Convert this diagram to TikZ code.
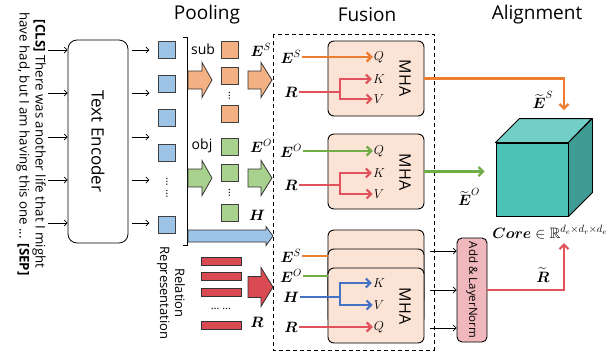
\RequirePackage{fix-cm}
\documentclass[tikz,border=0pt]{standalone}
\usepackage{fontspec}
\setmainfont{Open Sans}
\usepackage{amsmath,amssymb}
\usetikzlibrary{arrows.meta}

\definecolor{bluesq}{HTML}{9DC3E6}
\definecolor{orangesq}{HTML}{F4B183}
\definecolor{greensq}{HTML}{A9D18E}
\definecolor{barred}{HTML}{D94A52}
\definecolor{orangec}{HTML}{ED7D31}
\definecolor{greenc}{HTML}{70AD47}
\definecolor{bluec}{HTML}{4472C4}
\definecolor{redc}{HTML}{E0525C}
\definecolor{mhafill}{HTML}{FBE3D6}
\definecolor{addfill}{HTML}{F0B8BC}
\definecolor{cubefront}{HTML}{4CC1B6}
\definecolor{cubetop}{HTML}{72CFC7}
\definecolor{cubeside}{HTML}{3F9C94}

\tikzset{
  sq/.style={draw=black!75, line width=0.8pt, minimum size=17pt, inner sep=0pt},
  bar/.style={draw=black!80, line width=0.8pt, fill=barred, minimum width=40pt, minimum height=8pt, inner sep=0pt},
  mha/.style={draw, line width=0.9pt, rounded corners=6pt, fill=mhafill, minimum width=96pt, minimum height=75pt, inner sep=0pt},
  lab/.style={font=\fontsize{15}{17}\selectfont, inner sep=1pt},
  qkv/.style={font=\fontsize{13}{15}\selectfont, inner sep=1pt},
  cline/.style={line width=2.2pt},
  carr/.style={line width=2.2pt, -{Straight Barb[length=4.5pt,width=9pt]}},
  blk/.style={line width=0.7pt, -{Straight Barb[length=3pt,width=6pt]}},
  title/.style={font=\fontsize{19}{22}\selectfont},
}

% 块状箭头: 颜色, 起点x, 中心y, 箭头起点x, 尖端x, 箭身半高, 箭头半高
\newcommand{\blockarr}[7]{%
  \draw[line width=0.8pt, draw=black!80, fill=#1]
    (#2,{#3-#6}) -- (#4,{#3-#6}) -- (#4,{#3-#7}) -- (#5,#3)
    -- (#4,{#3+#7}) -- (#4,{#3+#6}) -- (#2,{#3+#6}) -- cycle;}

\begin{document}
\begin{tikzpicture}[x=1pt, y=-1pt]
    \useasboundingbox (0,0) rectangle (614,354);

    % 标题
    \node[title] (tpool) at (207,15) {Pooling};
    \node[title] (tfus) at (367,15) {Fusion};
    \node[title] (talign) at (537,15) {Alignment};

    % 输入句子与编码器
    \node[rotate=-90, align=center, font=\fontsize{13.3}{16}\selectfont, inner sep=0pt] (sent) at (31,144)
        {\textbf{[CLS]} There was another life that I might\\have had, but I am having this one ... \textbf{[SEP]}};
    \node[draw, line width=0.8pt, rounded corners=9pt, minimum width=60pt, minimum height=203pt] (enc) at (98,141.5) {};
    \node[rotate=-90, font=\fontsize{17}{20}\selectfont] (enctxt) at (enc) {Text Encoder};
    \foreach \y in {50,93,137,180,223} {
        \draw[blk] (sent.north |- 0,\y) ++(2,0) -- (enc.west |- 0,\y);
        \draw[blk] (enc.east |- 0,\y) ++(4,0) -- ++(17,0);
    }

    % 关系表示
    \foreach \y [count=\i] in {50,84,118,153,225}
        \node[sq, fill=bluesq] (b\i) at (167,\y) {};
    \node[rotate=-90, font=\fontsize{11}{12}\selectfont] (bdots) at (167,188) {\dots\ \dots};
    \draw[line width=0.7pt] (183,37) -- (187,37) -- (187,245) -- (183,245);
    \node[rotate=-90, align=center, font=\fontsize{13}{15}\selectfont] (relrep) at (171,293) {Relation\\Representation};

    % 池化
    \node[font=\fontsize{14}{16}\selectfont] (sub) at (203,49) {sub};
    \node[font=\fontsize{14}{16}\selectfont] (obj) at (202,146) {obj};
    \blockarr{orangesq}{188}{80}{202}{212}{9}{17.5}
    \blockarr{greensq}{188}{178}{202}{212}{9}{17.5}
    \foreach \y [count=\i] in {50,76,114}
        \node[sq, fill=orangesq] (o\i) at (229.5,\y) {};
    \foreach \y [count=\i] in {147,173,213}
        \node[sq, fill=greensq] (g\i) at (229.5,\y) {};
    \node[rotate=-90, font=\fontsize{11}{12}\selectfont] (odots) at (229.5,96) {\dots};
    \node[rotate=-90, font=\fontsize{11}{12}\selectfont] (gdots) at (229.5,193) {\dots};
    \blockarr{orangesq}{248}{80}{261}{272}{9}{17.5}
    \blockarr{greensq}{248}{178}{261}{272}{9}{17.5}
    \blockarr{bluesq}{188}{236}{266}{273}{6}{9.5}
    \node[lab] (pes) at (261,50) {$\boldsymbol{E}^{S}$};
    \node[lab] (peo) at (261,146) {$\boldsymbol{E}^{O}$};
    \node[lab] (ph) at (257,215) {$\boldsymbol{H}$};

    % 关系嵌入
    \foreach \y [count=\i] in {261,276,292,325}
        \node[bar] (rb\i) at (221,\y) {};
    \node[font=\fontsize{11}{12}\selectfont] (rdots) at (221,309) {\dots\ \dots};
    \node[lab] (pr) at (257,322) {$\boldsymbol{R}$};
    \blockarr{barred}{248}{287}{261}{273}{10.5}{19.5}

    % 融合模块
    \draw[dashed, line width=0.9pt, dash pattern=on 4pt off 3pt] (273,34) rectangle (434,350);

    % 第一行 MHA
    \node[mha] (mha1) at (376,78.5) {};
    \node[rotate=-90, font=\fontsize{16}{18}\selectfont] at (405,78) {MHA};
    \node[lab] (es1) at (291,57) {$\boldsymbol{E}^{S}$};
    \node[lab] (r1) at (291,92) {$\boldsymbol{R}$};
    \node[qkv] (q1) at (379,57) {$Q$};
    \node[qkv] (k1) at (379,79) {$K$};
    \node[qkv] (v1) at (379,99) {$V$};
    \draw[carr, orangec] (es1.east) -- (q1.west);
    \draw[cline, redc] (r1.east) -- (340,92) coordinate (j1);
    \draw[carr, redc] (j1) |- (k1.west);
    \draw[carr, redc] (j1) |- (v1.west);

    % 第二行 MHA
    \node[mha] (mha2) at (376,171.5) {};
    \node[rotate=-90, font=\fontsize{16}{18}\selectfont] at (405,172) {MHA};
    \node[lab] (eo2) at (291,151) {$\boldsymbol{E}^{O}$};
    \node[lab] (r2) at (291,185) {$\boldsymbol{R}$};
    \node[qkv] (q2) at (379,151) {$Q$};
    \node[qkv] (k2) at (379,173) {$K$};
    \node[qkv] (v2) at (379,194) {$V$};
    \draw[carr, greenc] (eo2.east) -- (q2.west);
    \draw[cline, redc] (r2.east) -- (340,185) coordinate (j2);
    \draw[carr, redc] (j2) |- (k2.west);
    \draw[carr, redc] (j2) |- (v2.west);

    % 第三行 堆叠的 MHA
    \node[mha] (mha3a) at (376,267.5) {};
    \node[mha] (mha3b) at (376,286.5) {};
    \node[mha] (mha3c) at (376,305.5) {};
    \node[rotate=-90, font=\fontsize{16}{18}\selectfont] at (405,306) {MHA};
    \node[lab] (es3) at (291,256) {$\boldsymbol{E}^{S}$};
    \node[lab] (eo3) at (291,276) {$\boldsymbol{E}^{O}$};
    \node[lab] (h3) at (291,297) {$\boldsymbol{H}$};
    \node[lab] (r3) at (291,327) {$\boldsymbol{R}$};
    \node[qkv] (k3) at (379,283) {$K$};
    \node[qkv] (v3) at (379,305) {$V$};
    \node[qkv] (q3) at (379,327) {$Q$};
    \draw[cline, orangec] (es3.east) -- (mha3b.west |- es3.east);
    \draw[cline, greenc] (eo3.east) -- (mha3c.west |- eo3.east);
    \draw[cline, bluec] (h3.east) -- (340,297) coordinate (j3);
    \draw[carr, bluec] (j3) |- (k3.west);
    \draw[carr, bluec] (j3) |- (v3.west);
    \draw[carr, redc] (r3.east) -- (q3.west);

    % Add & LayerNorm
    \node[draw, line width=0.9pt, rounded corners=5pt, fill=addfill, minimum width=30pt, minimum height=104pt] (add) at (472,290) {};
    \node[rotate=-90, font=\fontsize{11.5}{13}\selectfont] at (add) {Add \& LayerNorm};
    \foreach \y in {251,290,328}
        \draw[blk] (mha3c.east |- 0,\y) ++(6,0) -- (add.west |- 0,\y);

    % 对齐: 核心张量
    \node[draw, line width=0.9pt, fill=cubefront, minimum width=72pt, minimum height=73pt] (core) at (532,179.5) {};
    \draw[line width=0.9pt, fill=cubetop, line join=round] (core.north west) -- ++(24,-24) -- ++(72,0) -- (core.north east) -- cycle;
    \draw[line width=0.9pt, fill=cubeside, line join=round] (core.north east) -- ++(24,-24) -- ++(0,74) -- (core.south east) -- cycle;
    \node[font=\fontsize{15}{17}\selectfont] (corelab) at (550,232) {$\boldsymbol{Core}\in\mathbb{R}^{d_e\times d_r\times d_e}$};

    \coordinate (sin) at (564,110);
    \coordinate (rin) at (564,243);
    \draw[carr, orangec] (mha1.east) -| (sin);
    \draw[carr, greenc] (mha2.east) -- ([xshift=-11pt]core.west |- mha2.east);
    \draw[carr, redc] (add.east) -| (rin);
    \node[lab] (tes) at (543,100) {$\widetilde{\boldsymbol{E}}^{S}$};
    \node[lab] (teo) at (469,197) {$\widetilde{\boldsymbol{E}}^{O}$};
    \node[lab] (tr) at (543,275) {$\widetilde{\boldsymbol{R}}$};
\end{tikzpicture}
\end{document}
